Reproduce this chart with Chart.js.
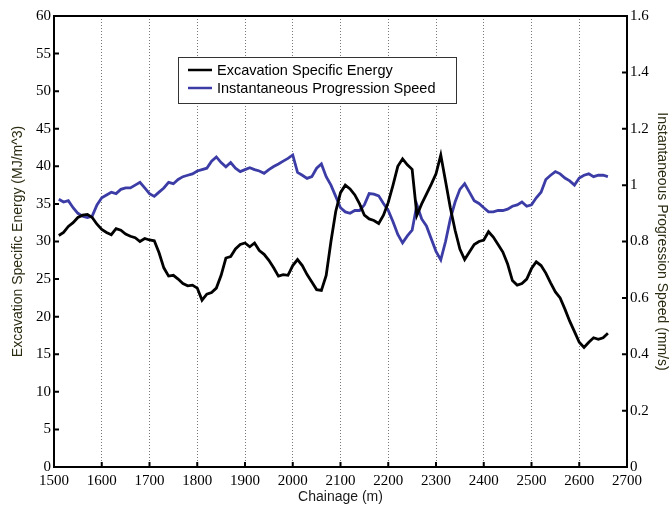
<!DOCTYPE html>
<html>
<head>
<meta charset="utf-8">
<script src="https://cdn.jsdelivr.net/npm/chart.js@4.4.1/dist/chart.umd.min.js"></script>
<style>
  html, body { margin: 0; padding: 0; background: #fff; }
  #wrap { width: 670px; height: 509px; }
</style>
</head>
<body>
<div id="wrap"><canvas id="myChart" width="670" height="509"></canvas></div>
<script>
const chainage = [
  1510, 1520, 1530, 1540, 1550, 1560, 1570, 1580, 1590, 1600,
  1610, 1620, 1630, 1640, 1650, 1660, 1670, 1680, 1690, 1700,
  1710, 1720, 1730, 1740, 1750, 1760, 1770, 1780, 1790, 1800,
  1810, 1820, 1830, 1840, 1850, 1860, 1870, 1880, 1890, 1900,
  1910, 1920, 1930, 1940, 1950, 1960, 1970, 1980, 1990, 2000,
  2010, 2020, 2030, 2040, 2050, 2060, 2070, 2080, 2090, 2100,
  2110, 2120, 2130, 2140, 2150, 2160, 2170, 2180, 2190, 2200,
  2210, 2220, 2230, 2240, 2250, 2260, 2270, 2280, 2290, 2300,
  2310, 2320, 2330, 2340, 2350, 2360, 2370, 2380, 2390, 2400,
  2410, 2420, 2430, 2440, 2450, 2460, 2470, 2480, 2490, 2500,
  2510, 2520, 2530, 2540, 2550, 2560, 2570, 2580, 2590, 2600,
  2610, 2620, 2630, 2640, 2650, 2660
];

// Excavation Specific Energy (MJ/m^3), left axis
const energy = [
  30.8, 31.2, 32.0, 32.5, 33.2, 33.5, 33.6, 33.2, 32.3, 31.6,
  31.2, 30.9, 31.7, 31.5, 31.0, 30.7, 30.5, 30.0, 30.4, 30.2,
  30.1, 28.5, 26.5, 25.4, 25.5, 25.0, 24.4, 24.1, 24.2, 23.8,
  22.2, 23.0, 23.2, 23.8, 25.5, 27.8, 28.0, 29.0, 29.6, 29.8,
  29.3, 29.8, 28.8, 28.3, 27.5, 26.5, 25.4, 25.6, 25.5, 26.8,
  27.6, 26.8, 25.6, 24.6, 23.6, 23.5, 25.5, 30.0, 34.0, 36.5,
  37.5, 37.0, 36.2, 35.0, 33.5, 33.0, 32.8, 32.4, 33.5, 35.2,
  37.5, 40.0, 41.0, 40.2, 39.6, 33.5, 35.0, 36.3, 37.6, 39.0,
  41.5, 38.0, 34.5, 31.5, 29.0, 27.6, 28.6, 29.6, 30.0, 30.2,
  31.3, 30.6, 29.6, 28.6, 27.0, 24.8, 24.2, 24.4, 25.0, 26.4,
  27.3, 26.8, 25.8, 24.5, 23.3, 22.5, 21.0, 19.4, 18.0, 16.6,
  15.9, 16.6, 17.2, 17.0, 17.2, 17.8
];

// Instantaneous Progression Speed (mm/s), right axis
const speed = [
  0.95, 0.94, 0.945, 0.92, 0.90, 0.89, 0.885, 0.89, 0.93, 0.955,
  0.965, 0.975, 0.97, 0.985, 0.99, 0.99, 1.00, 1.01, 0.99, 0.97,
  0.96, 0.975, 0.99, 1.01, 1.005, 1.02, 1.03, 1.035, 1.04, 1.05,
  1.055, 1.06, 1.085, 1.10, 1.08, 1.065, 1.08, 1.06, 1.048, 1.055,
  1.062, 1.055, 1.05, 1.042, 1.055, 1.066, 1.075, 1.085, 1.095, 1.107,
  1.045, 1.035, 1.024, 1.03, 1.06, 1.075, 1.03, 1.00, 0.96, 0.92,
  0.905, 0.90, 0.91, 0.91, 0.93, 0.97, 0.968, 0.962, 0.935, 0.91,
  0.87, 0.825, 0.795, 0.82, 0.84, 0.93, 0.88, 0.855, 0.81, 0.765,
  0.735, 0.80, 0.88, 0.94, 0.985, 1.005, 0.975, 0.945, 0.935, 0.92,
  0.905, 0.905, 0.91, 0.91, 0.915, 0.925, 0.93, 0.94, 0.925, 0.93,
  0.955, 0.975, 1.02, 1.035, 1.048, 1.04, 1.025, 1.015, 1.0, 1.025,
  1.035, 1.04, 1.03, 1.035, 1.035, 1.03
];

const tickFont = { family: '"Liberation Serif", "Times New Roman", serif', size: 15 };
const titleFont = { family: '"Liberation Sans", Arial, sans-serif', size: 14 };

// frame, inward tick marks and the boxed legend inside the plot
const framePlugin = {
  id: 'frame',
  afterDraw(chart) {
    const ctx = chart.ctx;
    const a = chart.chartArea;
    const sx = chart.scales.x, sy = chart.scales.y, sy2 = chart.scales.y2;
    ctx.save();
    ctx.strokeStyle = '#000';
    ctx.lineWidth = 2;
    ctx.strokeRect(a.left, a.top, a.right - a.left, a.bottom - a.top);
    ctx.beginPath();
    sx.ticks.forEach(t => {
      const px = sx.getPixelForValue(t.value);
      ctx.moveTo(px, a.bottom); ctx.lineTo(px, a.bottom - 5);
    });
    sy.ticks.forEach(t => {
      const py = sy.getPixelForValue(t.value);
      ctx.moveTo(a.left, py); ctx.lineTo(a.left + 5, py);
    });
    sy2.ticks.forEach(t => {
      const py = sy2.getPixelForValue(t.value);
      ctx.moveTo(a.right, py); ctx.lineTo(a.right - 5, py);
    });
    ctx.stroke();

    // legend
    const bx = 178, by = 57, bw = 278, bh = 46;
    ctx.fillStyle = '#fff';
    ctx.fillRect(bx, by, bw, bh);
    ctx.lineWidth = 1;
    ctx.strokeStyle = '#333';
    ctx.strokeRect(bx + 0.5, by + 0.5, bw, bh);
    ctx.font = '14.5px "Liberation Sans", Arial, sans-serif';
    ctx.textBaseline = 'middle';
    chart.data.datasets.forEach((ds, i) => {
      const ly = by + 13 + i * 18;
      ctx.strokeStyle = ds.borderColor;
      ctx.lineWidth = 2.5;
      ctx.beginPath();
      ctx.moveTo(188, ly); ctx.lineTo(212, ly);
      ctx.stroke();
      ctx.fillStyle = '#000';
      ctx.fillText(ds.label, 217, ly + 1);
    });
    ctx.restore();
  }
};

new Chart(document.getElementById('myChart'), {
  type: 'line',
  data: {
    datasets: [
      {
        label: 'Excavation Specific Energy',
        data: chainage.map((c, i) => ({ x: c, y: energy[i] })),
        borderColor: '#000000',
        borderWidth: 2.8,
        pointRadius: 0,
        yAxisID: 'y'
      },
      {
        label: 'Instantaneous Progression Speed',
        data: chainage.map((c, i) => ({ x: c, y: speed[i] })),
        borderColor: '#3c3ca6',
        borderWidth: 2.8,
        pointRadius: 0,
        yAxisID: 'y2'
      }
    ]
  },
  options: {
    responsive: false,
    animation: false,
    layout: { padding: { top: 16, left: 0, right: 0, bottom: 0 } },
    plugins: {
      legend: { display: false },
      tooltip: { enabled: false }
    },
    scales: {
      x: {
        type: 'linear',
        min: 1500,
        max: 2700,
        afterFit: s => { s.height = 42; },
        ticks: {
          stepSize: 100,
          color: '#000',
          font: tickFont,
          padding: 5,
          maxRotation: 0,
          callback: v => String(v)
        },
        grid: {
          drawTicks: false,
          lineWidth: 1,
          color: ctx => (ctx.tick && (ctx.tick.value === 1500 || ctx.tick.value === 2700)) ? 'rgba(0,0,0,0)' : '#777'
        },
        border: { display: true, color: '#000', width: 2, dash: [1, 2] },
        title: {
          display: true,
          text: 'Chainage (m)',
          color: '#1a1a1a',
          font: titleFont,
          padding: { top: 0, bottom: 3 }
        }
      },
      y: {
        position: 'left',
        min: 0,
        max: 60,
        afterFit: s => { s.width = 54; },
        ticks: { stepSize: 5, color: '#000', font: tickFont, padding: 3 },
        grid: { drawOnChartArea: false, drawTicks: false },
        border: { display: true, color: '#000', width: 2 },
        title: {
          display: true,
          text: 'Excavation Specific Energy (MJ/m^3)',
          color: '#2b2b12',
          font: titleFont,
          padding: { top: 10, bottom: 0 }
        }
      },
      y2: {
        position: 'right',
        min: 0,
        max: 1.6,
        afterFit: s => { s.width = 43; },
        ticks: {
          stepSize: 0.2,
          color: '#000',
          font: tickFont,
          padding: 3,
          callback: v => String(+v.toFixed(1))
        },
        grid: { drawOnChartArea: false, drawTicks: false },
        border: { display: true, color: '#000', width: 2 },
        title: {
          display: true,
          text: 'Instantaneous Progression Speed (mm/s)',
          color: '#2b2b12',
          font: titleFont,
          padding: { top: 0, bottom: 2 }
        }
      }
    }
  },
  plugins: [framePlugin]
});
</script>
</body>
</html>
